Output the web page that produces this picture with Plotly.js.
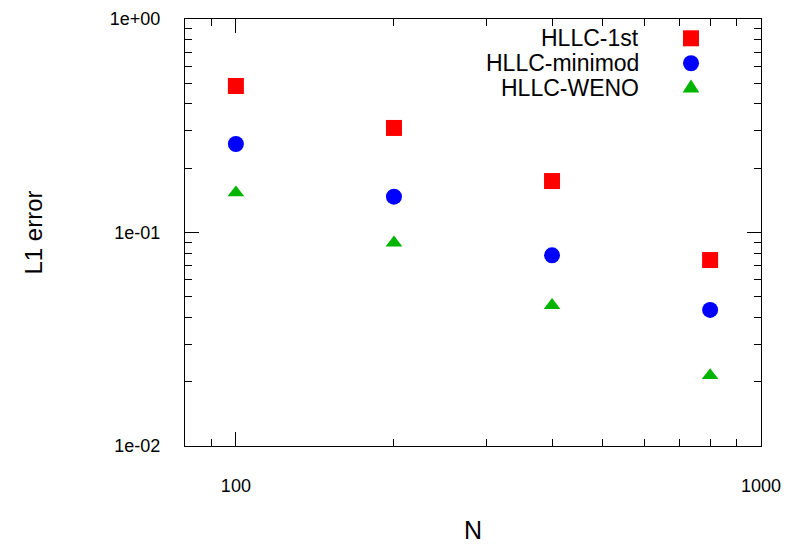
<!DOCTYPE html>
<html>
<head>
<meta charset="utf-8">
<script src="https://cdn.plot.ly/plotly-3.0.1.min.js"></script>
<style>html,body{margin:0;padding:0;background:#fff;}#chart{width:786px;height:545px;}</style>
</head>
<body>
<div id="chart"></div>
<script>
const gridN = [100, 200, 400, 800];
const seriesNames = ["HLLC-1st", "HLLC-minimod", "HLLC-WENO"];
const errFirst = [0.4855, 0.3088, 0.1742, 0.0743];
const errMinmod = [0.2597, 0.1472, 0.0782, 0.0434];
const errWeno = [0.1536, 0.0895, 0.0456, 0.0214];
const xTickVals = [100, 1000];
const xTickText = ["100", "1000"];
const yTickVals = [0.01, 0.1, 1];
const yTickText = ["1e-02", "1e-01", "1e+00"];

const colors = ["#ff0000", "#0000ff", "#00b400"];
const symbols = ["square", "circle", "triangle-up"];
const sizes = [16, 16, 14.5];
const seriesVals = [errFirst, errMinmod, errWeno];

const traces = seriesVals.map((vals, i) => ({
  type: "scatter", mode: "markers", x: gridN, y: vals, name: seriesNames[i],
  marker: {symbol: symbols[i], color: colors[i], size: sizes[i], line: {width: 0}},
  showlegend: false
}));

const font = "Liberation Sans, Arial, sans-serif";
// legend rows (paper coords)
const rowY = [0.9548, 0.8963, 0.8384];
const textX = 0.7918, markX = 0.8785;
const annotations = seriesNames.map((n, i) => ({
  xref: "paper", yref: "paper", x: textX, y: rowY[i], xanchor: "right", yanchor: "middle",
  text: n, showarrow: false, font: {family: font, size: 23, color: "#000"}
}));
const shapes = [
  {type: "rect", xref: "paper", yref: "paper", xsizemode: "pixel", ysizemode: "pixel",
   xanchor: markX, yanchor: rowY[0], x0: -8, x1: 8, y0: -8, y1: 8,
   fillcolor: colors[0], line: {width: 0}},
  {type: "circle", xref: "paper", yref: "paper", xsizemode: "pixel", ysizemode: "pixel",
   xanchor: markX, yanchor: rowY[1], x0: -8, x1: 8, y0: -8, y1: 8,
   fillcolor: colors[1], line: {width: 0}},
  {type: "path", xref: "paper", yref: "paper", xsizemode: "pixel", ysizemode: "pixel",
   xanchor: markX, yanchor: rowY[2], path: "M-8.4,-4.5 L8.4,-4.5 L0,8.5 Z",
   fillcolor: colors[2], line: {width: 0}}
];

const layout = {
  width: 786, height: 545,
  margin: {l: 185, r: 25, t: 19, b: 99},
  paper_bgcolor: "#fff", plot_bgcolor: "#fff",
  font: {family: font, size: 18, color: "#000"},
  showlegend: false,
  xaxis: {
    type: "log", range: [Math.log10(80), 3],
    tickmode: "array", tickvals: xTickVals, ticktext: xTickText,
    ticks: "inside", ticklen: 14, tickwidth: 1, tickcolor: "#000",
    minor: {dtick: "D1", ticks: "inside", ticklen: 7, tickwidth: 1, tickcolor: "#000"},
    showline: true, linecolor: "#000", linewidth: 1, mirror: "allticks",
    showgrid: false, zeroline: false, ticklabelstandoff: 23,
    tickfont: {size: 18},
    title: {text: "N", font: {size: 25}, standoff: 26}
  },
  yaxis: {
    type: "log", range: [-2, 0],
    tickmode: "array", tickvals: yTickVals, ticktext: yTickText,
    ticks: "inside", ticklen: 14, tickwidth: 1, tickcolor: "#000",
    minor: {dtick: "D1", ticks: "inside", ticklen: 7, tickwidth: 1, tickcolor: "#000"},
    showline: true, linecolor: "#000", linewidth: 1, mirror: "allticks",
    showgrid: false, zeroline: false, ticklabelstandoff: 20,
    tickfont: {size: 18},
    title: {text: "L1 error", font: {size: 24}, standoff: 60}
  },
  annotations: annotations,
  shapes: shapes
};

Plotly.newPlot("chart", traces, layout, {displayModeBar: false, staticPlot: true});
</script>
</body>
</html>
